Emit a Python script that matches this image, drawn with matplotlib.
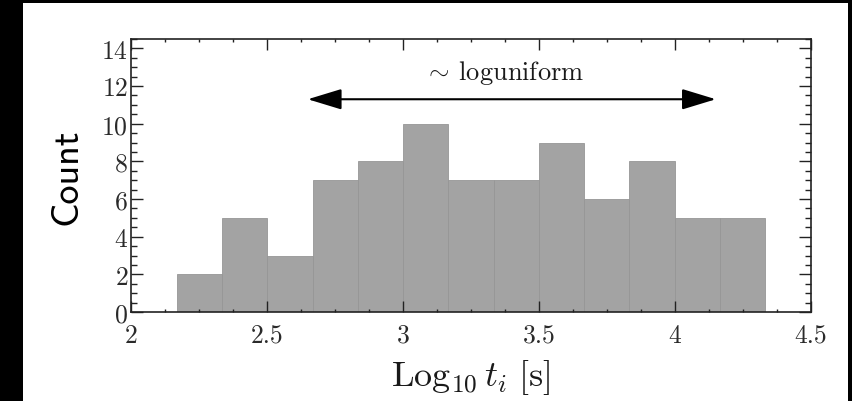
import matplotlib
matplotlib.use("Agg")
import matplotlib.pyplot as plt
import numpy as np
from matplotlib.patches import Rectangle
from matplotlib.ticker import MultipleLocator

# histogram
bin_start = 2.169
bin_width = 0.1663
counts = [2, 5, 3, 7, 8, 10, 7, 7, 9, 6, 8, 5, 5]
arrow_x = [2.65, 4.15]
arrow_y = 11.3
note = r"$\sim\!$ loguniform"

plt.rcParams['mathtext.fontset'] = 'cm'
plt.rcParams['font.family'] = 'serif'
plt.rcParams['font.serif'] = ['cmr10']
plt.rcParams['axes.formatter.use_mathtext'] = True

fig = plt.figure(figsize=(8.53, 4.02), dpi=100, facecolor='black')
fig.patches.append(Rectangle((23/853, 0), (848-23)/853, (402-4)/402,
                             transform=fig.transFigure, facecolor='white',
                             edgecolor='none', zorder=-5))
ax = fig.add_axes([131/853, 89/402, 680/853, 273/402])

edges = bin_start + bin_width*np.arange(len(counts)+1)
ax.bar(edges[:-1], counts, width=bin_width, align='edge',
       color='#a3a3a3', edgecolor='#969696', linewidth=0.6, zorder=1)

ax.set_xlim(2, 4.5)
ax.set_ylim(0, 14.5)
ax.xaxis.set_major_locator(MultipleLocator(0.5))
ax.xaxis.set_minor_locator(MultipleLocator(0.125))
ax.yaxis.set_major_locator(MultipleLocator(2))
ax.yaxis.set_minor_locator(MultipleLocator(0.5))
ax.xaxis.set_major_formatter(plt.FuncFormatter(lambda v, p: f"{v:g}"))

ax.tick_params(which='both', direction='in', top=True, right=True,
               labelsize=18.5, width=1, color='#222222',
               labelcolor='#2a2a2a', zorder=3)
ax.tick_params(axis='x', which='major', length=8, pad=8)
ax.tick_params(axis='x', which='minor', length=2.5)
ax.tick_params(axis='y', which='major', length=8.5, pad=2)
ax.tick_params(axis='y', which='minor', length=4.3)
for s in ax.spines.values():
    s.set_linewidth(1.2)
    s.set_color('#222222')
    s.set_zorder(4)

ax.set_xlabel(r"$\mathrm{Log}_{10}\, t_i\ [\mathrm{s}]$", fontsize=26,
              labelpad=7, color='#1a1a1a')
ax.set_ylabel("Count", fontsize=27.5, family='cmss10', labelpad=12)

ax.annotate("", xy=(arrow_x[0], arrow_y), xytext=(arrow_x[1], arrow_y),
            arrowprops=dict(arrowstyle='<|-|>,head_length=1.05,head_width=0.32',
                            mutation_scale=20, color='black', lw=1.5,
                            shrinkA=0, shrinkB=0))
ax.text(np.mean(arrow_x) - 0.03, 12.0, note, ha='center', va='bottom',
        fontsize=19, color='#1a1a1a')

fig.savefig("out.png", dpi=100, facecolor=fig.get_facecolor())
